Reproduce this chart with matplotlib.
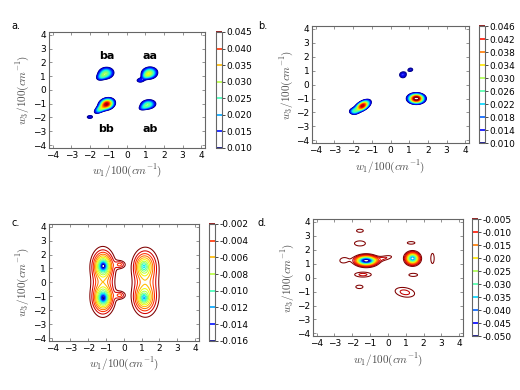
import numpy as np
import matplotlib
matplotlib.use("Agg")
import matplotlib.pyplot as plt
from matplotlib.colors import Normalize

plt.rcParams['font.family'] = ['DejaVu Sans']
plt.rcParams['mathtext.fontset'] = 'cm'

# peaks: x0, y0, amplitude, sigma along angle, sigma across, angle (deg)
a_x0 = [-1.12, -1.42, 1.22, 1.00, 0.70, -1.08, -1.50, -2.00, 1.15, 0.85]
a_y0 = [1.22, 0.92, 1.22, 1.00, 0.68, -1.02, -1.45, -1.97, -1.05, -1.30]
a_amp = [0.027, 0.012, 0.030, 0.008, 0.013, 0.043, 0.020, 0.013, 0.026, 0.010]
a_s1 = [0.31, 0.22, 0.31, 0.18, 0.18, 0.30, 0.25, 0.18, 0.30, 0.20]
a_s2 = [0.29, 0.15, 0.29, 0.12, 0.13, 0.25, 0.14, 0.13, 0.24, 0.12]
a_ang = [45, 45, 45, 45, 0, 45, 45, 0, 15, 30]

b_x0 = [1.38, -1.50, -1.98, 0.66, 1.08]
b_y0 = [-1.00, -1.52, -1.92, 0.70, 1.08]
b_amp = [0.050, 0.045, 0.017, 0.0145, 0.012]
b_s1 = [0.30, 0.34, 0.18, 0.20, 0.17]
b_s2 = [0.24, 0.18, 0.16, 0.24, 0.17]
b_ang = [0, 45, 0, 0, 0]

# each c peak: narrow core, middle and wide parts
c_x0 = [-1.15, -1.15, -1.18, -1.15, -1.15, -1.18, -0.20, -0.20,
        1.12, 1.12, 1.22, 1.12, 1.12, 1.22]
c_y0 = [1.18, 1.18, 1.18, -1.12, -1.12, -1.12, 1.28, -0.92,
        1.14, 1.14, 1.14, -1.12, -1.12, -1.12]
c_amp = [-0.0060, -0.0060, -0.0050, -0.0050, -0.0060, -0.0050, -0.0035, -0.0035,
         -0.0020, -0.0040, -0.0050, -0.0030, -0.0040, -0.0050]
c_s1 = [0.18, 0.50, 1.00, 0.18, 0.50, 1.00, 0.20, 0.20,
        0.18, 0.50, 1.00, 0.18, 0.50, 1.00]
c_s2 = [0.12, 0.30, 0.48, 0.12, 0.30, 0.48, 0.20, 0.20,
        0.12, 0.30, 0.53, 0.12, 0.30, 0.53]
c_ang = [90, 90, 90, 90, 90, 90, 0, 0, 90, 90, 90, 90, 90, 90]

d_x0 = [-1.22, -0.15, 1.38, -2.48, 2.50, -1.57, -1.57, 1.30, -1.40, 1.42, -1.60, 0.95]
d_y0 = [1.22, 1.42, 1.38, 1.25, 1.38, 3.37, 2.46, 2.50, 0.22, 0.20, -0.66, -1.05]
d_amp = [-0.054, -0.0075, -0.040, -0.0065, -0.0065, -0.006, -0.0065, -0.006,
         -0.0085, -0.006, -0.006, -0.0085]
d_s1 = [0.36, 0.40, 0.25, 0.30, 0.13, 0.31, 0.42, 0.35, 0.45, 0.40, 0.33, 0.54]
d_s2 = [0.23, 0.15, 0.28, 0.25, 0.50, 0.18, 0.25, 0.15, 0.17, 0.18, 0.20, 0.32]
d_ang = [0, 15, 0, 20, 0, 0, 0, 0, 0, 0, 0, -15]

a_ticks = [0.010, 0.015, 0.020, 0.025, 0.030, 0.035, 0.040, 0.045]
b_ticks = [0.010, 0.014, 0.018, 0.022, 0.026, 0.030, 0.034, 0.038, 0.042, 0.046]
c_ticks = [-0.016, -0.014, -0.012, -0.010, -0.008, -0.006, -0.004, -0.002]
d_ticks = [-0.050, -0.045, -0.040, -0.035, -0.030, -0.025, -0.020, -0.015, -0.010, -0.005]

peak_labels = ['ba', 'aa', 'bb', 'ab']
peak_lx = [-1.1, 1.25, -1.1, 1.25]
peak_ly = [2.45, 2.45, -2.85, -2.85]

g = np.linspace(-4.2, 4.2, 400)
X, Y = np.meshgrid(g, g)


def spectrum(x0, y0, amp, s1, s2, ang):
    Z = np.zeros_like(X)
    for xi, yi, A, sa, sb, th in zip(x0, y0, amp, s1, s2, ang):
        t = np.deg2rad(th)
        u = (X - xi) * np.cos(t) + (Y - yi) * np.sin(t)
        v = -(X - xi) * np.sin(t) + (Y - yi) * np.cos(t)
        Z += A * np.exp(-u**2 / (2 * sa**2) - v**2 / (2 * sb**2))
    return Z


fig = plt.figure(figsize=(5.2, 3.9), dpi=100)

panels = [
    ('a.', spectrum(a_x0, a_y0, a_amp, a_s1, a_s2, a_ang), a_ticks, 0.001,
     [0.094, 0.621, 0.300, 0.297], [0.415, 0.621, 0.012, 0.297], (0.022, 0.925)),
    ('b.', spectrum(b_x0, b_y0, b_amp, b_s1, b_s2, b_ang), b_ticks, 0.001,
     [0.600, 0.633, 0.302, 0.300], [0.921, 0.633, 0.012, 0.300], (0.496, 0.925)),
    ('c.', spectrum(c_x0, c_y0, c_amp, c_s1, c_s2, c_ang), c_ticks, 0.001,
     [0.094, 0.126, 0.288, 0.300], [0.402, 0.126, 0.012, 0.300], (0.022, 0.42)),
    ('d.', spectrum(d_x0, d_y0, d_amp, d_s1, d_s2, d_ang), d_ticks, 0.0025,
     [0.602, 0.138, 0.288, 0.300], [0.908, 0.138, 0.012, 0.300], (0.496, 0.42)),
]

for name, Z, ticks, step, pos, cpos, lpos in panels:
    ax = fig.add_axes(pos)
    vmin, vmax = ticks[0], ticks[-1]
    norm = Normalize(vmin, vmax)
    levels = np.arange(vmin, vmax + step / 2, step)
    ax.contour(X, Y, Z, levels=levels, cmap='jet', norm=norm, linewidths=0.75)
    ax.set_xlim(-4.2, 4.2)
    ax.set_ylim(-4.2, 4.2)
    ax.set_xticks(range(-4, 5))
    ax.set_yticks(range(-4, 5))
    ax.tick_params(direction='in', top=True, right=True, length=2.5, width=0.5,
                   labelsize=6.5, pad=2, color='0.4')
    for s in ax.spines.values():
        s.set_color('0.4')
        s.set_linewidth(0.8)
    ax.set_xlabel(r'$w_1/100(cm^{-1})$', fontsize=8, labelpad=2, color='0.3')
    ax.set_ylabel(r'$w_3/100(cm^{-1})$', fontsize=8, labelpad=1, color='0.3')
    fig.text(lpos[0], lpos[1], name, fontsize=7)

    if name == 'a.':
        for lab, lx, ly in zip(peak_labels, peak_lx, peak_ly):
            ax.text(lx, ly, lab, ha='center', va='center', fontsize=8,
                    fontweight='bold')

    cax = fig.add_axes(cpos)
    cb = fig.colorbar(plt.cm.ScalarMappable(norm=norm, cmap='jet'), cax=cax,
                      ticks=ticks)
    cb.solids.set_visible(False)
    cb.add_lines(ticks, colors=plt.cm.jet(norm(np.array(ticks))),
                 linewidths=[1.2] * len(ticks))
    cb.outline.set_edgecolor('0.4')
    cb.outline.set_linewidth(0.8)
    cb.ax.tick_params(labelsize=6.5, length=2, width=0.5, pad=1)
    cb.ax.set_yticklabels(['%.3f' % t for t in ticks])

fig.savefig('out.png', dpi=100)
